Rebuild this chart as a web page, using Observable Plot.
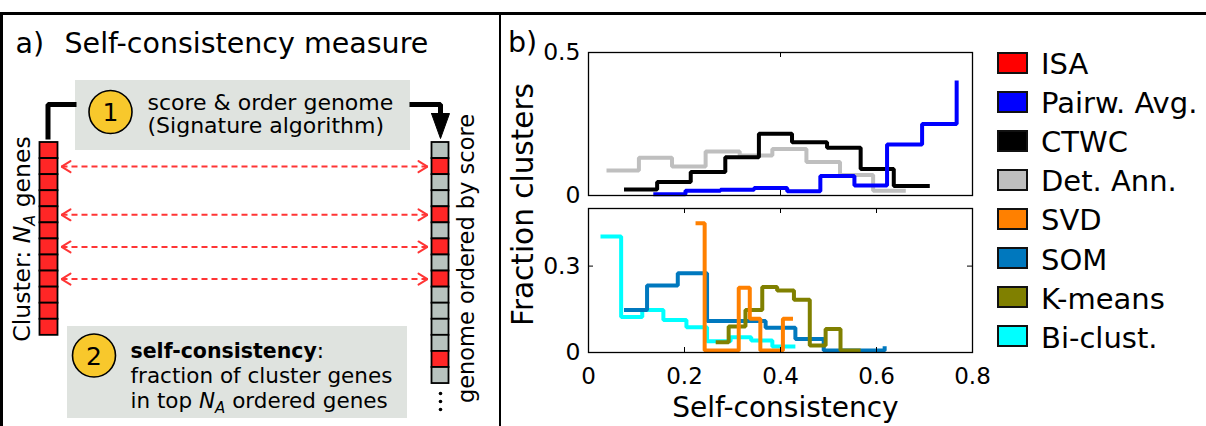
<!DOCTYPE html>
<html>
<head>
<meta charset="utf-8">
<script src="https://cdn.jsdelivr.net/npm/d3@7"></script>
<script src="https://cdn.jsdelivr.net/npm/@observablehq/plot@0.6"></script>
<style>
  html, body { margin: 0; padding: 0; background: #fff; }
  #fig { position: relative; width: 1206px; height: 426px; overflow: hidden; background: #fff;
         font-family: "DejaVu Sans", sans-serif; color: #000; }
  #fig > * { position: absolute; }
</style>
</head>
<body>
<div id="fig"></div>
<script>
// ================= DATA =================
// Legend (order as in the figure)
const legendNames  = ["ISA", "Pairw. Avg.", "CTWC", "Det. Ann.", "SVD", "SOM", "K-means", "Bi-clust."];
const legendColors = ["#ff0000", "#0000ff", "#000000", "#bfbfbf", "#ff8000", "#0078be", "#808000", "#00ffff"];

// Upper panel: stair-step histograms (bin left edges, fraction of clusters)
const detAnnX  = [0.0375, 0.105, 0.174, 0.244, 0.315, 0.383, 0.454, 0.524, 0.593, 0.661];
const detAnnY  = [0.087, 0.132, 0.101, 0.154, 0.140, 0.163, 0.117, 0.072, 0.017, 0.017];
const ctwcX    = [0.074, 0.143, 0.213, 0.285, 0.355, 0.424, 0.497, 0.567, 0.636, 0.711];
const ctwcY    = [0.021, 0.047, 0.082, 0.134, 0.216, 0.186, 0.167, 0.093, 0.033, 0.033];
const pairwX   = [0.135, 0.202, 0.275, 0.345, 0.414, 0.483, 0.554, 0.622, 0.695, 0.767];
const pairwY   = [0.004, 0.017, 0.020, 0.026, 0.015, 0.068, 0.035, 0.178, 0.250, 0.402];

// Lower panel
const biclustX = [0.025, 0.068, 0.112, 0.156, 0.204, 0.247, 0.296, 0.339, 0.383, 0.431];
const biclustY = [0.403, 0.123, 0.148, 0.113, 0.088, 0.039, 0.053, 0.042, 0.021, 0.021];
const somX     = [0.074, 0.122, 0.186, 0.247, 0.308, 0.369, 0.431, 0.490, 0.553, 0.617];
const somY     = [0.148, 0.233, 0.275, 0.109, 0.109, 0.086, 0.047, 0.007, 0.007, 0.022];
const kmeansX  = [0.265, 0.292, 0.327, 0.362, 0.393, 0.428, 0.461, 0.494, 0.525, 0.567];
const kmeansY  = [0.036, 0.090, 0.148, 0.227, 0.215, 0.183, 0.024, 0.082, 0.007, 0.007];
const svdX     = [0.223, 0.242, 0.313, 0.336, 0.358, 0.405, 0.426];
const svdY     = [0.449, 0.007, 0.225, 0.117, 0.007, 0.117, 0.117];

// Axes
const xTickLabels       = [0, 0.2, 0.4, 0.6, 0.8];
const topYTickLabels    = [0, 0.5];
const bottomYTickLabels = [0, 0.3];
const topXInnerTicks    = [0.4];
const bottomXInnerTicks = [0.2, 0.4, 0.6];
const bottomYInnerTicks = [0.3];

// Panel a) schematic
const clusterColumn = ["A","A","A","A","A","A","A","A","A","A","A","A"];          // N_A cluster genes
const genomeColumn  = ["o","A","o","o","A","o","A","o","A","o","o","o","o","A","o"]; // genome ordered by score
const matchedRows   = [1, 4, 6, 8];
const stepLabels    = ["1", "2"];
const step1Lines    = ["score & order genome", "(Signature algorithm)"];
const step2Lines    = ["self-consistency:", "fraction of cluster genes", "in top NA ordered genes"];
const ellipsisDots  = [0, 1, 2];

// ================= BUILD =================
const FONT = "DejaVu Sans, sans-serif";
const fig = d3.select("#fig");
const rows = (series, xs, ys) => xs.map((x, i) => ({series, x, y: ys[i]}));

// ---------- Panel a) ----------
const cellH = 16.07, colTop = 142;
const leftCol = [39.5, 57.5], rightCol = [431.5, 448.5];
const cells = [
  ...clusterColumn.map((m, i) => ({x1: leftCol[0], x2: leftCol[1], y1: colTop + i * cellH, y2: colTop + (i + 1) * cellH, m})),
  ...genomeColumn.map((m, i) => ({x1: rightCol[0], x2: rightCol[1], y1: colTop + i * cellH, y2: colTop + (i + 1) * cellH, m}))
];
const rowY = r => colTop + (r + 0.5) * cellH;
const linkL = 61, linkR = 427;
const links = matchedRows.map(r => ({y: rowY(r)}));
const chevrons = matchedRows.flatMap(r => {
  const y = rowY(r);
  return [
    {id: "L" + r, x: linkL + 9, y: y - 5.5}, {id: "L" + r, x: linkL, y}, {id: "L" + r, x: linkL + 9, y: y + 5.5},
    {id: "R" + r, x: linkR - 9, y: y - 5.5}, {id: "R" + r, x: linkR, y}, {id: "R" + r, x: linkR - 9, y: y + 5.5}
  ];
});
const boxes = [{x1: 75, x2: 410, y1: 80, y2: 150}, {x1: 67, x2: 407, y1: 326, y2: 418}];
const bracket = [
  {id: "L", x: 47.5, y: 139}, {id: "L", x: 47.5, y: 104}, {id: "L", x: 76, y: 104},
  {id: "R", x: 409, y: 104}, {id: "R", x: 440, y: 104}, {id: "R", x: 440, y: 116}
];
const arrowTri = [{x: 431, y: 113}, {x: 449, y: 113}, {x: 440, y: 138}, {x: 431, y: 113}];
const stepPos = [{x: 110, y: 111.5}, {x: 93.5, y: 355}];
const steps = stepLabels.map((s, i) => ({label: s, ...stepPos[i]}));

const diagram = Plot.plot({
  width: 500, height: 426,
  x: {domain: [0, 500], range: [0, 500], axis: null},
  y: {domain: [0, 426], range: [0, 426], axis: null},
  color: {type: "identity"},
  style: {fontFamily: FONT, background: "transparent", overflow: "visible"},
  marks: [
    Plot.rect(boxes, {x1: "x1", x2: "x2", y1: "y1", y2: "y2", fill: "#dfe3df"}),
    Plot.line(bracket, {x: "x", y: "y", z: "id", stroke: "black", strokeWidth: 5, strokeLinejoin: "miter", strokeLinecap: "butt"}),
    Plot.line(arrowTri, {x: "x", y: "y", fill: "black", stroke: "black", strokeWidth: 1}),
    Plot.link(links, {x1: () => linkL, x2: () => linkR, y1: "y", y2: "y", stroke: "#ff3535", strokeWidth: 2, strokeDasharray: "6,4"}),
    Plot.line(chevrons, {x: "x", y: "y", z: "id", stroke: "#ff3535", strokeWidth: 2, strokeLinejoin: "miter"}),
    Plot.rect(cells, {x1: "x1", x2: "x2", y1: "y1", y2: "y2", fill: d => d.m === "A" ? "#ff2626" : "#b8c3bf", stroke: "black", strokeWidth: 1.8}),
    Plot.dot(steps, {x: "x", y: "y", r: 21.5, fill: "#f8c82c", stroke: "black", strokeWidth: 1.6}),
    Plot.text(steps, {x: "x", y: "y", text: "label", fontSize: 25, lineAnchor: "middle", dy: 1}),
    // title
    Plot.text(["a)"], {x: () => 15, y: () => 52, text: d => d, fontSize: 28.5, textAnchor: "start", lineAnchor: "bottom"}),
    Plot.text(["Self-consistency measure"], {x: () => 64, y: () => 52, text: d => d, fontSize: 28.5, textAnchor: "start", lineAnchor: "bottom"}),
    // step texts
    Plot.text(step1Lines, {x: () => 147, y: (d, i) => 109 + i * 23, text: d => d, fontSize: 22, textAnchor: "start", lineAnchor: "bottom"}),
    Plot.text(step2Lines, {x: () => 130, y: (d, i) => 357 + i * 25, text: d => d, fontSize: 21.5, textAnchor: "start", lineAnchor: "bottom"}),
    // vertical labels
    Plot.text(["Cluster: NA genes"], {x: () => 29, y: () => 238.5, text: d => d, fontSize: 23.5, rotate: -90, textAnchor: "middle", lineAnchor: "bottom"}),
    Plot.text(["genome ordered by score"], {x: () => 473, y: () => 258, text: d => d, fontSize: 22.5, rotate: -90, textAnchor: "middle", lineAnchor: "bottom"}),
    Plot.dot(ellipsisDots, {x: () => 440, y: d => 393 + d * 8, r: 1.8, fill: "black"})
  ]
});
fig.node().appendChild(diagram);
d3.select(diagram).style("left", "0px").style("top", "0px");

// rich text (bold / italic subscript)
function rich(svg, content, parts) {
  d3.select(svg).selectAll("text").filter(function () { return this.textContent === content; }).each(function () {
    const t = d3.select(this);
    t.text(null);
    parts.forEach(p => {
      const s = t.append("tspan").text(p.t);
      if (p.bold) s.attr("font-weight", "bold");
      if (p.italic) s.attr("font-style", "italic");
      if (p.size) s.attr("font-size", p.size);
      if (p.dy) s.attr("dy", p.dy);
    });
  });
}
rich(diagram, "self-consistency:", [{t: "self-consistency", bold: true, size: "20.5px"}, {t: ":"}]);
rich(diagram, "in top NA ordered genes", [{t: "in top "}, {t: "N", italic: true}, {t: "A", italic: true, size: "15px", dy: 5}, {t: " ordered genes", dy: -5}]);
rich(diagram, "Cluster: NA genes", [{t: "Cluster: "}, {t: "N", italic: true}, {t: "A", italic: true, size: "16px", dy: 5}, {t: " genes", dy: -5}]);

// ---------- Panel b) ----------
const topRows = [
  ...rows("Det. Ann.", detAnnX, detAnnY),
  ...rows("CTWC", ctwcX, ctwcY),
  ...rows("Pairw. Avg.", pairwX, pairwY)
];
const bottomRows = [
  ...rows("Bi-clust.", biclustX, biclustY),
  ...rows("SOM", somX, somY),
  ...rows("K-means", kmeansX, kmeansY),
  ...rows("SVD", svdX, svdY)
];
const colorScale = {domain: legendNames, range: legendColors};
const frameW = 384, frameHTop = 143, frameHBot = 144, tickLen = 5;
const stepLine = data => Plot.line(data, {x: "x", y: "y", z: "series", stroke: "series", curve: "step-after",
  strokeWidth: 4, strokeLinejoin: "miter", strokeLinecap: "butt"});

const topPlot = Plot.plot({
  width: 480, height: 173,
  marginLeft: 88, marginRight: 8, marginTop: 25, marginBottom: 5,
  x: {domain: [0, 0.8], axis: null},
  y: {domain: [0, 0.5], axis: null},
  color: colorScale,
  style: {fontFamily: FONT, background: "transparent", overflow: "visible"},
  marks: [
    stepLine(topRows),
    Plot.frame({stroke: "black", strokeWidth: 1.3}),
    Plot.tickX(topXInnerTicks, {x: d => d, insetTop: frameHTop - tickLen, stroke: "black"}),
    Plot.tickX(topXInnerTicks, {x: d => d, insetBottom: frameHTop - tickLen, stroke: "black"}),
    Plot.axisY(topYTickLabels, {tickSize: 0, tickPadding: 8, fontSize: 23.5, label: null, tickFormat: d => String(d)})
  ]
});
fig.node().appendChild(topPlot);
d3.select(topPlot).style("left", "500px").style("top", "27px");

const bottomPlot = Plot.plot({
  width: 480, height: 226,
  marginLeft: 88, marginRight: 8, marginTop: 8, marginBottom: 74,
  x: {domain: [0, 0.8]},
  y: {domain: [0, 0.5]},
  color: colorScale,
  style: {fontFamily: FONT, background: "transparent", overflow: "visible"},
  marks: [
    stepLine(bottomRows),
    Plot.frame({stroke: "black", strokeWidth: 1.3}),
    Plot.tickX(bottomXInnerTicks, {x: d => d, insetTop: frameHBot - tickLen, stroke: "black"}),
    Plot.tickX(bottomXInnerTicks, {x: d => d, insetBottom: frameHBot - tickLen, stroke: "black"}),
    Plot.tickY(bottomYInnerTicks, {y: d => d, insetRight: frameW - tickLen, stroke: "black"}),
    Plot.tickY(bottomYInnerTicks, {y: d => d, insetLeft: frameW - tickLen, stroke: "black"}),
    Plot.axisY(bottomYTickLabels, {tickSize: 0, tickPadding: 8, fontSize: 23.5, label: null, tickFormat: d => String(d)}),
    Plot.axisX(xTickLabels, {tickSize: 0, tickPadding: 15, fontSize: 23, label: null, tickFormat: d => String(d)}),
    Plot.text(["Self-consistency"], {frameAnchor: "bottom", dy: 64, dx: 5, text: d => d, fontSize: 28, lineAnchor: "bottom"})
  ]
});
fig.node().appendChild(bottomPlot);
d3.select(bottomPlot).style("left", "500px").style("top", "200px");

// Panel b) labels
const overlay = fig.append("svg").attr("width", 1206).attr("height", 426)
  .style("left", "0px").style("top", "0px").style("pointer-events", "none")
  .attr("font-family", FONT);
overlay.append("text").attr("x", 508).attr("y", 52).attr("font-size", 28.5).text("b)");
overlay.append("text").attr("transform", "translate(533,204.5) rotate(-90)").attr("text-anchor", "middle")
  .attr("font-size", 29.5).text("Fraction clusters");

// Legend
const legend = fig.append("div").style("left", "997px").style("top", "51.5px");
legendNames.forEach((name, i) => {
  const row = legend.append("div").style("position", "absolute").style("left", "0px")
    .style("top", (i * 39.1) + "px").style("height", "22px").style("display", "flex")
    .style("align-items", "center").style("white-space", "nowrap");
  row.append("div").style("width", "27px").style("height", "18px").style("border", "2px solid #111")
    .style("background", legendColors[i]);
  row.append("span").style("margin-left", "13px").style("font-size", "29px").style("line-height", "22px")
    .style("position", "relative").style("top", "1.5px").text(name);
});

// Figure borders
fig.append("div").style("left", "0px").style("top", "12px").style("width", "1206px").style("height", "2.5px").style("background", "#000");
fig.append("div").style("left", "0px").style("top", "12px").style("width", "2.5px").style("height", "414px").style("background", "#000");
fig.append("div").style("left", "498.5px").style("top", "12px").style("width", "2.5px").style("height", "414px").style("background", "#000");
</script>
</body>
</html>
